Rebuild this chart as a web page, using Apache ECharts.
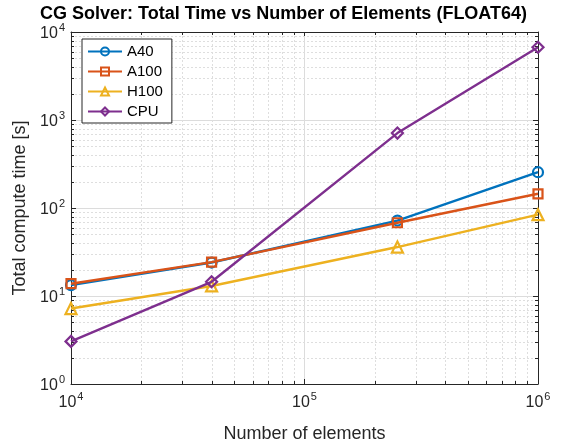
<!DOCTYPE html>
<html>
<head>
<meta charset="utf-8">
<script src="https://cdn.jsdelivr.net/npm/echarts@6/dist/echarts.min.js"></script>
<style>html,body{margin:0;padding:0;background:#fff;}#c{width:567px;height:448px;}</style>
</head>
<body>
<div id="c"></div>
<script>
const elements = [1e4, 4e4, 2.5e5, 1e6];
const a40 = [13.3, 24.0, 72, 255];
const a100 = [13.8, 24.3, 68, 145];
const h100 = [7.2, 13.0, 36, 84];
const cpu = [3.05, 14.5, 710, 6700];
const seriesNames = ['A40', 'A100', 'H100', 'CPU'];
const xRange = [1e4, 1e6];
const yRange = [1e0, 1e4];

const colors = ['#0072BD', '#D95319', '#EDB120', '#7E2F8E'];
const symbols = ['circle', 'rect', 'triangle', 'diamond'];
const symSizes = [10, 9, 11, 11];
const values = [a40, a100, h100, cpu];
const axisColor = '#262626';
const font = 'Liberation Sans, Arial, Helvetica, sans-serif';

// minor grid helper values (2..9 per decade)
const minorItems = [];
for (let d = Math.log10(yRange[0]); d < Math.log10(yRange[1]); d++) {
  for (let k = 2; k <= 9; k++) minorItems.push([xRange[0], k * Math.pow(10, d), 0]);
}
for (let d = Math.log10(xRange[0]); d < Math.log10(xRange[1]); d++) {
  for (let k = 2; k <= 9; k++) minorItems.push([k * Math.pow(10, d), yRange[0], 1]);
}

function powLabel(v) {
  const e = Math.round(Math.log10(v));
  return '{b|10}{s|' + e + '}';
}
const richLbl = {
  b: { fontSize: 16, color: axisColor, fontFamily: font, lineHeight: 20, verticalAlign: 'bottom' },
  s: { fontSize: 11, color: axisColor, fontFamily: font, verticalAlign: 'top', lineHeight: 11, padding: [0, 0, 0, 1] }
};

const lineSeries = values.map((vals, i) => ({
  name: seriesNames[i],
  type: 'line',
  data: elements.map((x, j) => [x, vals[j]]),
  symbol: symbols[i],
  symbolSize: symSizes[i],
  showAllSymbol: true,
  lineStyle: { color: colors[i], width: 2.4 },
  itemStyle: { color: 'rgba(255,255,255,0)', borderColor: colors[i], borderWidth: 2.2 },
  emphasis: { disabled: true },
  z: 5 + i
}));

const minorSeries = {
  type: 'custom',
  silent: true,
  clip: false,
  z: 1,
  encode: { x: 0, y: 1 },
  data: minorItems,
  renderItem: function (params, api) {
    const cs = params.coordSys;
    const kind = api.value(2);
    const gridStyle = { stroke: '#dedede', lineWidth: 1, lineDash: [2, 2] };
    const tickStyle = { stroke: axisColor, lineWidth: 1 };
    if (kind === 0) {
      const y = Math.round(api.coord([api.value(0), api.value(1)])[1]) + 0.5;
      return { type: 'group', children: [
        { type: 'line', shape: { x1: cs.x, y1: y, x2: cs.x + cs.width, y2: y }, style: gridStyle },
        { type: 'line', shape: { x1: cs.x, y1: y, x2: cs.x + 3, y2: y }, style: tickStyle },
        { type: 'line', shape: { x1: cs.x + cs.width - 3, y1: y, x2: cs.x + cs.width, y2: y }, style: tickStyle }
      ]};
    } else {
      const x = Math.round(api.coord([api.value(0), api.value(1)])[0]) + 0.5;
      return { type: 'group', children: [
        { type: 'line', shape: { x1: x, y1: cs.y, x2: x, y2: cs.y + cs.height }, style: gridStyle },
        { type: 'line', shape: { x1: x, y1: cs.y + cs.height - 3, x2: x, y2: cs.y + cs.height }, style: tickStyle },
        { type: 'line', shape: { x1: x, y1: cs.y, x2: x, y2: cs.y + 3 }, style: tickStyle }
      ]};
    }
  }
};

const chart = echarts.init(document.getElementById('c'), null, { renderer: 'canvas' });
chart.setOption({
  animation: false,
  backgroundColor: '#fff',
  color: colors,
  title: {
    text: 'CG Solver: Total Time vs Number of Elements (FLOAT64)',
    left: 'center',
    top: 0,
    textStyle: { fontFamily: font, fontSize: 18, fontWeight: 'bold', color: '#000' }
  },
  legend: {
    data: seriesNames,
    orient: 'vertical',
    left: 82,
    top: 39,
    itemGap: 5,
    itemWidth: 34,
    itemHeight: 10,
    padding: [5, 9, 4, 5],
    borderColor: axisColor,
    borderWidth: 1,
    backgroundColor: '#fff',
    textStyle: { fontFamily: font, fontSize: 15, color: '#000' }
  },
  grid: { left: 71, right: 29, top: 32, bottom: 62, containLabel: false },
  xAxis: [{
    type: 'log', logBase: 10, min: xRange[0], max: xRange[1],
    name: 'Number of elements', nameLocation: 'middle', nameGap: 41,
    nameTextStyle: { fontFamily: font, fontSize: 18, color: axisColor },
    axisLine: { lineStyle: { color: axisColor, width: 1 } },
    axisTick: { inside: true, length: 5, lineStyle: { color: axisColor } },
    axisLabel: { formatter: powLabel, rich: richLbl, margin: 7 },
    splitLine: { show: true, lineStyle: { color: '#dcdcdc', width: 1 } },
    minorTick: { show: false }
  }, {
    type: 'log', logBase: 10, min: xRange[0], max: xRange[1], position: 'top',
    axisLine: { show: true, lineStyle: { color: axisColor, width: 1 } },
    axisTick: { inside: true, length: 5, lineStyle: { color: axisColor } },
    axisLabel: { show: false }, splitLine: { show: false }
  }],
  yAxis: [{
    type: 'log', logBase: 10, min: yRange[0], max: yRange[1],
    name: 'Total compute time [s]', nameLocation: 'middle', nameGap: 37,
    nameTextStyle: { fontFamily: font, fontSize: 18, color: axisColor },
    axisLine: { show: true, lineStyle: { color: axisColor, width: 1 } },
    axisTick: { inside: true, length: 5, lineStyle: { color: axisColor } },
    axisLabel: { formatter: powLabel, rich: richLbl, margin: 6 },
    splitLine: { show: true, lineStyle: { color: '#dcdcdc', width: 1 } }
  }, {
    type: 'log', logBase: 10, min: yRange[0], max: yRange[1], position: 'right',
    axisLine: { show: true, lineStyle: { color: axisColor, width: 1 } },
    axisTick: { inside: true, length: 5, lineStyle: { color: axisColor } },
    axisLabel: { show: false }, splitLine: { show: false }
  }],
  series: [minorSeries].concat(lineSeries)
});
</script>
</body>
</html>
